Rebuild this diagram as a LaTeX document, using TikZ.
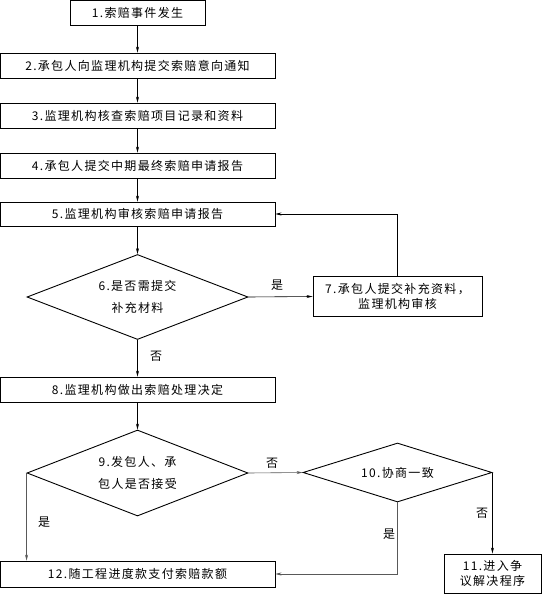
\documentclass[tikz,border=0pt]{standalone}
\usepackage{fontspec}
\setmainfont{Noto Sans CJK SC}[LetterSpace=11]
\usetikzlibrary{shapes.geometric,arrows.meta}
\begin{document}
\begin{tikzpicture}[x=1pt,y=-1pt,
  every node/.style={font=\fontsize{12}{15.5}\selectfont},
  box/.style={draw,line width=0.9pt,inner sep=0pt,align=center},
  dia/.style={draw,diamond,line width=0.9pt,inner sep=0pt,align=center,shape aspect=2.6,font=\fontsize{12}{21.5}\selectfont},
  lab/.style={inner sep=0pt},
  conn/.style={line width=0.6pt,-{Stealth[length=6pt,width=3pt]}},
  gconn/.style={conn,draw=black!65}]
\useasboundingbox (0,0) rectangle (542,594);
\node[box,minimum width=135pt,minimum height=25pt] (b1) at (137.5,12.5) {1.索赔事件发生};
\node[box,minimum width=275pt,minimum height=25pt] (b2) at (137.5,65.5) {2.承包人向监理机构提交索赔意向通知};
\node[box,minimum width=275pt,minimum height=25pt] (b3) at (137.5,115.5) {3.监理机构核查索赔项目记录和资料};
\node[box,minimum width=275pt,minimum height=25pt] (b4) at (137.5,165.5) {4.承包人提交中期最终索赔申请报告};
\node[box,minimum width=275pt,minimum height=24pt] (b5) at (137.5,214) {5.监理机构审核索赔申请报告};
\node[dia,minimum width=221pt,minimum height=85pt] (d6) at (137.5,297) {6.是否需提交\\补充材料};
\node[box,minimum width=169pt,minimum height=40pt] (b7) at (397.5,296.5) {7.承包人提交补充资料，\\监理机构审核};
\node[box,minimum width=275pt,minimum height=25pt] (b8) at (137.5,389.5) {8.监理机构做出索赔处理决定};
\node[dia,minimum width=221pt,minimum height=86pt] (d9) at (137.5,473) {9.发包人、承\\包人是否接受};
\node[dia,shape aspect=3.2,minimum width=189pt,minimum height=59pt] (d10) at (397.5,472.5) {10.协商一致};
\node[box,minimum width=97pt,minimum height=39pt] (b11) at (492.5,573.5) {11.进入争\\议解决程序};
\node[box,minimum width=275pt,minimum height=26pt] (b12) at (137.5,574) {12.随工程进度款支付索赔款额};
\draw[conn] (b1) -- (b2);
\draw[conn] (b2) -- (b3);
\draw[conn] (b3) -- (b4);
\draw[conn] (b4) -- (b5);
\draw[conn] (b5) -- (d6);
\draw[conn] (d6.south) -- (b8.north);
\draw[conn] (d6.east) -- (b7.west);
\draw[conn] (b7.north) |- (b5.east);
\draw[conn] (b8) -- (d9.north);
\draw[gconn] (d9.west) -- (d9.west |- b12.north);
\draw[gconn] (d9.east) -- (d10.west);
\draw[gconn] (d10.south) |- (b12.east);
\draw[conn] (d10.east) -- (d10.east |- b11.north);
\node[lab] (l1) at (277,285) {是};
\node[lab] (l2) at (156,356) {否};
\node[lab] (l3) at (272,463) {否};
\node[lab] (l4) at (44,522) {是};
\node[lab] (l5) at (389,534) {是};
\node[lab] (l6) at (482,513) {否};
\end{tikzpicture}
\end{document}
